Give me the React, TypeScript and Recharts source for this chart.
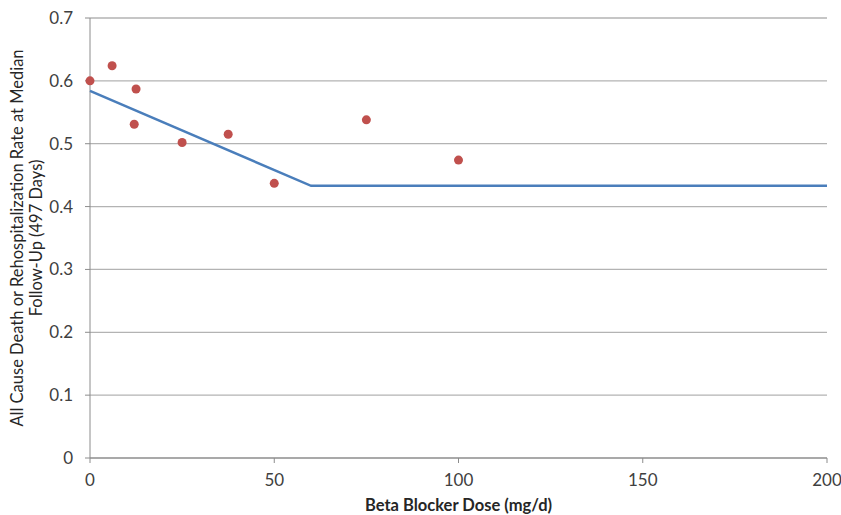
import React from "react";
import { ComposedChart, Scatter, XAxis, YAxis, CartesianGrid } from "recharts";

const doseValues = [0, 6, 12.5, 12, 25, 37.5, 50, 75, 100];
const rateValues = [0.6, 0.624, 0.587, 0.531, 0.502, 0.515, 0.437, 0.538, 0.474];
const fitDose = [0, 60, 200];
const fitRate = [0.584, 0.433, 0.433];
const xTicks = [0, 50, 100, 150, 200];
const yTicks = [0, 0.1, 0.2, 0.3, 0.4, 0.5, 0.6, 0.7];

const points = doseValues.map((x, i) => ({ x, y: rateValues[i] }));
const fit = fitDose.map((x, i) => ({ x, y: fitRate[i] }));

const FONT = "Lato, 'Open Sans', sans-serif";

const YLabel = (props: any) => {
  const vb = props.viewBox || {};
  const cy = vb.y + vb.height / 2;
  return (
    <g>
      <text
        transform={`translate(23, ${cy}) rotate(-90)`}
        textAnchor="middle"
        fill="#262626"
        fontFamily={FONT}
        fontSize={16.5}
      >
        <tspan x={0} dy={0}>All Cause Death or Rehospitalization Rate at Median</tspan>
        <tspan x={0} dy={19}>Follow-Up (497 Days)</tspan>
      </text>
    </g>
  );
};

export default function App() {
  return (
    <div style={{ position: "absolute", left: 0, top: 0, background: "#fff" }}>
      <ComposedChart
        width={841}
        height={515}
        margin={{ top: 18, right: 14, bottom: 0, left: 30 }}
      >
        <CartesianGrid horizontal={true} vertical={false} stroke="#b3b3b3" strokeWidth={1.3} />
        <XAxis
          type="number"
          dataKey="x"
          domain={[0, 200]}
          ticks={xTicks}
          height={57}
          stroke="#8c8c8c"
          tickSize={5}
          tickMargin={11}
          tick={{ fill: "#404040", fontSize: 17, fontFamily: FONT }}
          label={{
            value: "Beta Blocker Dose (mg/d)",
            position: "insideBottom",
            offset: 4,
            fill: "#262626",
            fontSize: 16.5,
            fontWeight: "bold",
            fontFamily: FONT,
          }}
          allowDuplicatedCategory={false}
        />
        <YAxis
          type="number"
          dataKey="y"
          domain={[0, 0.7]}
          ticks={yTicks}
          width={60}
          stroke="#8c8c8c"
          tickSize={5}
          tickMargin={12}
          tickFormatter={(v: number) => (v === 0 ? "0" : v.toFixed(1))}
          tick={{ fill: "#404040", fontSize: 17, fontFamily: FONT }}
          label={<YLabel />}
        />
        <Scatter
          data={fit}
          line={{ stroke: "#4a7ebb", strokeWidth: 2.5 }}
          shape={() => null}
          isAnimationActive={false}
        />
        <Scatter
          data={points}
          fill="#c0504d"
          shape={(p: any) => <circle cx={p.cx} cy={p.cy} r={4.5} fill="#c0504d" />}
          isAnimationActive={false}
        />
      </ComposedChart>
    </div>
  );
}
